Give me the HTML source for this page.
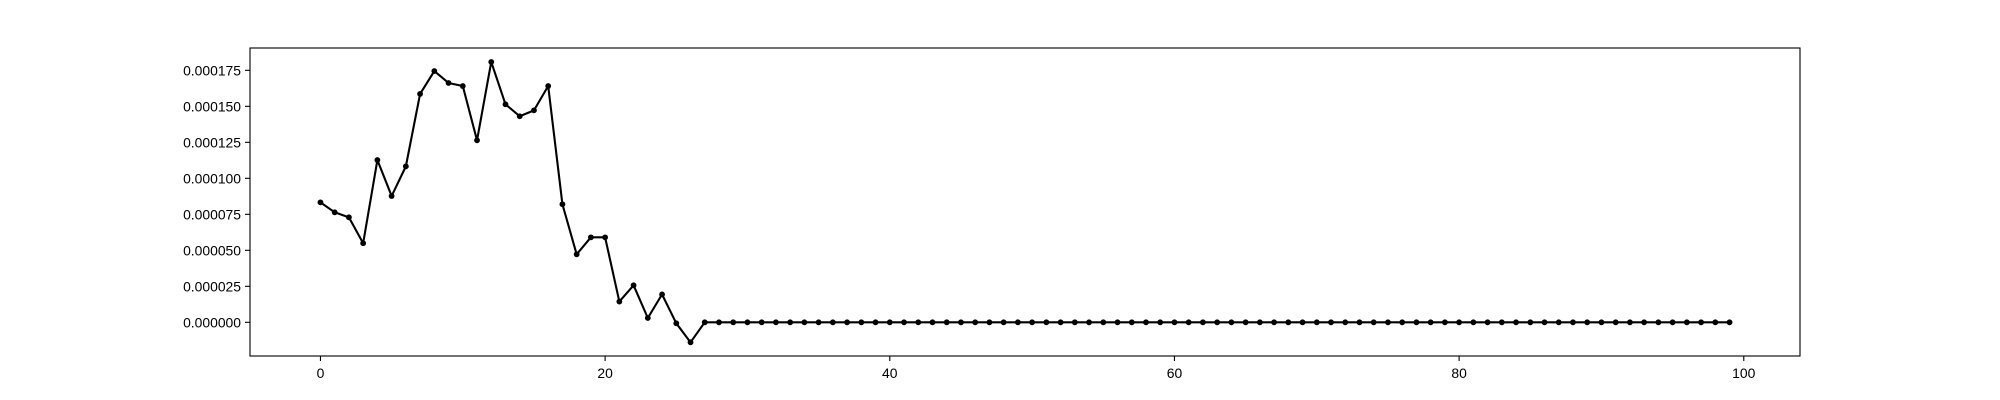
<!DOCTYPE html>
<html><head><meta charset="utf-8"><style>
html,body{margin:0;padding:0;background:#fff;}
svg{display:block;font-family:"Liberation Sans","DejaVu Sans",sans-serif;}
</style></head><body>
<svg id="chart" width="2000" height="400"></svg>
<script>
const yValues=[8.33e-5,7.64e-5,7.29e-5,5.49e-5,1.127e-4,8.77e-5,1.083e-4,1.586e-4,1.745e-4,1.662e-4,1.641e-4,1.264e-4,1.808e-4,1.514e-4,1.431e-4,1.472e-4,1.641e-4,8.2e-5,4.72e-5,5.9e-5,5.9e-5,1.44e-5,2.57e-5,3.0e-6,1.94e-5,-7e-7,-1.39e-5,
0,0,0,0,0,0,0,0,0,0,
0,0,0,0,0,0,0,0,0,0,
0,0,0,0,0,0,0,0,0,0,
0,0,0,0,0,0,0,0,0,0,
0,0,0,0,0,0,0,0,0,0,
0,0,0,0,0,0,0,0,0,0,
0,0,0,0,0,0,0,0,0,0,
0,0,0];
const xTicks=[0,20,40,60,80,100];
const yTicks=[0,0.000025,0.00005,0.000075,0.0001,0.000125,0.00015,0.000175];
const yTickLabels=["0.000000","0.000025","0.000050","0.000075","0.000100","0.000125","0.000150","0.000175"];
const L=250,R=1800,T=48,B=356;
const xMin=-4.95,xMax=103.95,yMin=-0.0000234,yMax=0.0001905;
const sx=v=>L+(v-xMin)/(xMax-xMin)*(R-L);
const sy=v=>B-(v-yMin)/(yMax-yMin)*(B-T);
const NS="http://www.w3.org/2000/svg";
const svg=document.getElementById('chart');
function mk(t,a){const e=document.createElementNS(NS,t);for(const k in a)e.setAttribute(k,a[k]);svg.appendChild(e);return e;}
let d=yValues.map((v,i)=>(i?'L':'M')+sx(i).toFixed(2)+','+sy(v).toFixed(2)).join('');
const line=mk('path',{d:d,fill:'none',stroke:'#000','stroke-width':2.1,'stroke-linejoin':'round'});


yValues.forEach((v,i)=>{
  const c=mk('circle',{cx:sx(i),cy:sy(v),r:2.9,fill:'#000'});
  
  
});
const frame=mk('rect',{x:L,y:T,width:R-L,height:B-T,fill:'none',stroke:'#000','stroke-width':1.1});


xTicks.forEach(t=>{
  const x=sx(t);
  const tk=mk('line',{x1:x,x2:x,y1:B,y2:B+5,stroke:'#000','stroke-width':1.1});
  
  
  const tx=mk('text',{x:x,y:B+22,'text-anchor':'middle','font-size':13.9,fill:'#000'});
  tx.textContent=t;
  
  
});
yTicks.forEach((t,i)=>{
  const y=sy(t);
  const tk=mk('line',{x1:L-5,x2:L,y1:y,y2:y,stroke:'#000','stroke-width':1.1});
  
  
  const tx=mk('text',{x:L-9,y:y+5,'text-anchor':'end','font-size':13.9,fill:'#000'});
  tx.textContent=yTickLabels[i];
  
  
});
</script>
</body></html>
